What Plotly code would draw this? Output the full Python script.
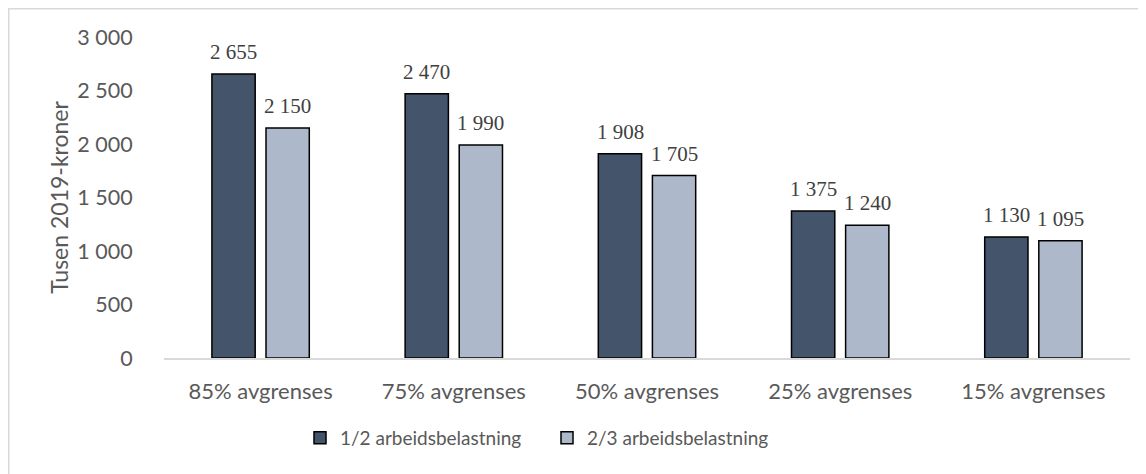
import plotly.graph_objects as go

categories = ["85% avgrenses", "75% avgrenses", "50% avgrenses", "25% avgrenses", "15% avgrenses"]
series_names = ["1/2 arbeidsbelastning", "2/3 arbeidsbelastning"]
values_half = [2655, 2470, 1908, 1375, 1130]
values_twothirds = [2150, 1990, 1705, 1240, 1095]
y_tickvals = [0, 500, 1000, 1500, 2000, 2500, 3000]
y_ticktext = ["0", "500", "1 000", "1 500", "2 000", "2 500", "3 000"]
colors = ["#44546A", "#ADB9CA"]


def fmt(v):
    return f"{v:,}".replace(",", " ")


# page has an 8px body margin, so the figure is 8px smaller than the window
W, H = 1138, 466
L, R, T, B = 156, 16, 29, 116
PW, PH = W - L - R, H - T - B


def px_x(p):
    return (p - L) / PW


def px_y(p):
    return (H - B - p) / PH


fig = go.Figure()
for name, vals, col in zip(series_names, [values_half, values_twothirds], colors):
    fig.add_trace(go.Bar(
        x=categories, y=vals, name=name,
        marker=dict(color=col, line=dict(color="#000000", width=1.5)),
        cliponaxis=False,
    ))

# data labels as annotations above each bar
bar_offset_px = 27
annotations = []
for vals, sign in [(values_half, -1), (values_twothirds, 1)]:
    for c, v in zip(categories, vals):
        annotations.append(dict(
            x=c, y=v, xref="x", yref="y", text=fmt(v), showarrow=False,
            xshift=sign * bar_offset_px, yshift=8, yanchor="bottom",
            font=dict(family="Liberation Serif", size=21, color="#404040"),
        ))

fig.update_layout(
    width=W, height=H,
    margin=dict(l=L, r=R, t=T, b=B),
    paper_bgcolor="white", plot_bgcolor="white",
    barmode="group", bargap=0.44, bargroupgap=0.2,
    font=dict(family="Lato", color="#595959", size=19),
    showlegend=True,
    legend=dict(orientation="h", x=px_x(292), xanchor="left",
                y=px_y(430), yanchor="middle",
                font=dict(family="Lato", size=19, color="#595959"),
                itemwidth=30, entrywidth=202, tracegroupgap=0),
    annotations=annotations,
    xaxis=dict(showline=True, linecolor="#D9D9D9", linewidth=1.5,
               ticks="outside", ticklen=13, tickcolor="rgba(0,0,0,0)",
               tickfont=dict(family="Lato", size=22, color="#595959")),
    yaxis=dict(range=[0, 3000], tickvals=y_tickvals, ticktext=y_ticktext,
               showgrid=False, zeroline=False, showline=False,
               ticks="outside", ticklen=26, tickcolor="rgba(0,0,0,0)",
               tickfont=dict(family="Lato", size=21.5, color="#595959"),
               title=dict(text="Tusen 2019-kroner", standoff=2,
                          font=dict(family="Lato", size=23, color="#595959"))),
    shapes=[dict(type="rect", xref="paper", yref="paper",
                 x0=px_x(0.75), x1=px_x(W + 20),
                 y0=px_y(H + 20), y1=px_y(0.75),
                 line=dict(color="#D9D9D9", width=1.5), fillcolor="rgba(0,0,0,0)", layer="above")],
)

fig.write_html("out.html")
